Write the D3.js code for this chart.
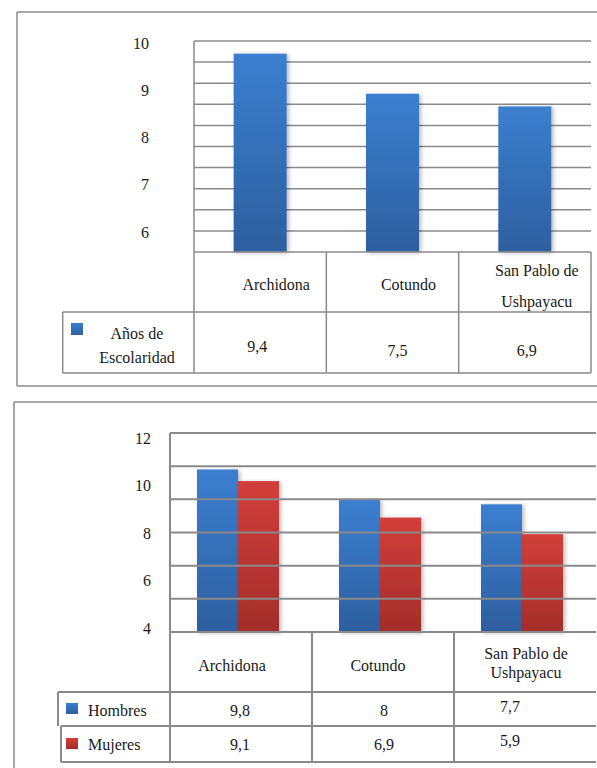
<!DOCTYPE html>
<html><head><meta charset="utf-8">
<script src="https://cdn.jsdelivr.net/npm/d3@7"></script>
<style>
html,body{margin:0;padding:0;background:#fff;}
svg{display:block;}
text{font-family:"Liberation Serif","Times New Roman",serif;font-size:16px;fill:#1a1a1a;}
</style></head>
<body>
<svg id="c" width="597" height="768"></svg>
<script>
// ---- data ----
const categories = ["Archidona", "Cotundo", "San Pablo de Ushpayacu"];
const categoryLines = [["Archidona"], ["Cotundo"], ["San Pablo de", "Ushpayacu"]];
const aniosEscolaridad = [9.4, 7.5, 6.9];
const hombres = [9.8, 8, 7.7];
const mujeres = [9.1, 6.9, 5.9];
const ticks1 = ["10", "9", "8", "7", "6"];
const ticks2 = ["12", "10", "8", "6", "4"];
const series1Label = ["Años de", "Escolaridad"];
const series2Labels = ["Hombres", "Mujeres"];

const fmt = v => String(v).replace(".", ",");
const svg = d3.select("#c");
const defs = svg.append("defs");
function grad(id, top, bottom) {
  const g = defs.append("linearGradient").attr("id", id).attr("x1", 0).attr("y1", 0).attr("x2", 0).attr("y2", 1);
  g.append("stop").attr("offset", "0%").attr("stop-color", top);
  g.append("stop").attr("offset", "100%").attr("stop-color", bottom);
}
grad("gBlue", "#3b7fd0", "#2d5f9f");
grad("gRed", "#d23e3a", "#a32d2a");
const f = defs.append("filter").attr("id", "sh").attr("x", "-20%").attr("y", "-10%").attr("width", "150%").attr("height", "130%");
f.append("feDropShadow").attr("dx", 2).attr("dy", 1).attr("stdDeviation", 2).attr("flood-color", "#000").attr("flood-opacity", 0.28);

const lineCol = "#8a8a8a";
function hline(x1, x2, y, w) { svg.append("line").attr("x1", x1).attr("x2", x2).attr("y1", y).attr("y2", y).attr("stroke", lineCol).attr("stroke-width", w || 1.5); }
function vline(x, y1, y2, w) { svg.append("line").attr("x1", x).attr("x2", x).attr("y1", y1).attr("y2", y2).attr("stroke", lineCol).attr("stroke-width", w || 1.5); }

// ================= Chart 1 =================
{
  // outer frame
  hline(17, 597, 12); vline(17, 12, 386); hline(17, 597, 386);
  const L = 194, R = 591, T = 41, B = 252;
  const y = d3.scaleLinear().domain([0, 10]).range([B, T]);
  const x = d3.scaleBand().domain(categories).range([L, R]);
  // gridlines
  const g = svg.append("g");
  d3.range(1, 11).forEach(v => hline(L, R, y(v)));
  // bars
  svg.append("g").selectAll("rect").data(categories).join("rect")
    .attr("x", d => x(d) + x.bandwidth() / 2 - 26.5)
    .attr("width", 53)
    .attr("y", (d, i) => y(aniosEscolaridad[i]))
    .attr("height", (d, i) => y(0) - y(aniosEscolaridad[i]))
    .attr("fill", "url(#gBlue)").attr("filter", "url(#sh)");
  // y labels
  const ly = d3.scalePoint().domain(ticks1).range([43, 232]);
  svg.append("g").selectAll("text").data(ticks1).join("text")
    .attr("x", 149).attr("y", d => ly(d)).attr("dy", "0.35em").attr("text-anchor", "end").text(d => d);
  // table
  hline(L, R, B); hline(62.7, R, 312); hline(62.7, R, 373);
  vline(L, T, 373); vline(62.7, 312, 373); vline(R, B, 373);
  categories.slice(1).forEach(c => vline(x(c), B, 373));
  // category labels
  categories.forEach((c, i) => {
    const lines = categoryLines[i];
    const cx = x(c) + x.bandwidth() / 2 + (lines.length > 1 ? 12 : 16);
    const t = svg.append("text").attr("text-anchor", "middle");
    if (lines.length === 1) t.attr("x", cx).attr("y", 284).attr("dy", "0.35em").text(lines[0]);
    else lines.forEach((s, k) => svg.append("text").attr("text-anchor", "middle").attr("x", cx).attr("y", 270 + k * 31.5).attr("dy", "0.35em").text(s));
  });
  // values
  const vdx = [-3, 5, 2], vy = [346, 350, 350];
  categories.forEach((c, i) => svg.append("text").attr("text-anchor", "middle")
    .attr("x", x(c) + x.bandwidth() / 2 + vdx[i]).attr("y", vy[i]).attr("dy", "0.35em").text(fmt(aniosEscolaridad[i])));
  // legend
  svg.append("rect").attr("x", 71).attr("y", 323).attr("width", 12).attr("height", 12).attr("fill", "url(#gBlue)");
  series1Label.forEach((s, k) => svg.append("text").attr("text-anchor", "middle").attr("x", 137).attr("y", 333 + k * 24).attr("dy", "0.35em").text(s));
}

// ================= Chart 2 =================
{
  hline(14, 597, 402); vline(14, 402, 768);
  const L = 170, R = 596, T = 433, B = 632;
  const y = d3.scaleLinear().domain([0, 12]).range([B, T]);
  const x = d3.scaleBand().domain(categories).range([L, R]);
  const xi = d3.scaleBand().domain(series2Labels).range([27, 109]);
  const series = [hombres, mujeres];
  const fills = ["url(#gBlue)", "url(#gRed)"];
  series.forEach((vals, s) => {
    svg.append("g").selectAll("rect").data(categories).join("rect")
      .attr("x", d => x(d) + xi(series2Labels[s]))
      .attr("width", xi.bandwidth())
      .attr("y", (d, i) => y(vals[i]))
      .attr("height", (d, i) => y(0) - y(vals[i]))
      .attr("fill", fills[s]).attr("filter", "url(#sh)");
  });
  // gridlines on top of bars
  d3.range(2, 13, 2).forEach(v => hline(L, R, y(v), 2));
  // y labels
  const ly = d3.scalePoint().domain(ticks2).range([438, 628]);
  svg.append("g").selectAll("text").data(ticks2).join("text")
    .attr("x", 151).attr("y", d => ly(d)).attr("dy", "0.35em").attr("text-anchor", "end").text(d => d);
  // table
  hline(L, R, B, 2); hline(58, R, 692, 2); hline(61, R, 726, 2); hline(61, R, 762, 2);
  vline(L, T, 762, 2); vline(58, 692, 726, 2); vline(61, 726, 762, 2);
  categories.slice(1).forEach(c => vline(x(c), B, 762, 2));
  const cdx = [-9, -5, 1];
  categories.forEach((c, i) => {
    const lines = categoryLines[i];
    const cx = x(c) + x.bandwidth() / 2 + cdx[i];
    if (lines.length === 1) svg.append("text").attr("text-anchor", "middle").attr("x", cx).attr("y", 665).attr("dy", "0.35em").text(lines[0]);
    else lines.forEach((s, k) => svg.append("text").attr("text-anchor", "middle").attr("x", cx).attr("y", 653 + k * 19).attr("dy", "0.35em").text(s));
  });
  const vdx = [-1, 1, -15], vdy = [0, 0, -4];
  series.forEach((vals, s) => categories.forEach((c, i) => svg.append("text").attr("text-anchor", "middle")
    .attr("x", x(c) + x.bandwidth() / 2 + vdx[i]).attr("y", (s === 0 ? 710 : 744) + vdy[i]).attr("dy", "0.35em").text(fmt(vals[i]))));
  // legend
  [[703, 710], [738, 744]].forEach((p, s) => {
    svg.append("rect").attr("x", 66).attr("y", p[0]).attr("width", 12).attr("height", 11).attr("fill", fills[s]);
    svg.append("text").attr("x", 88).attr("y", p[1]).attr("dy", "0.35em").text(series2Labels[s]);
  });
}
</script>
</body></html>
